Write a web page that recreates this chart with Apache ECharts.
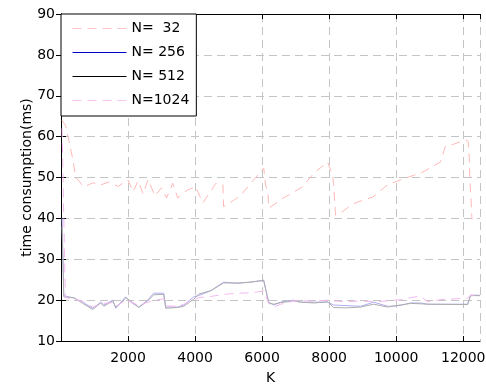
<!DOCTYPE html>
<html>
<head>
	<meta charset="utf-8">
	<title>time consumption</title>
	<style>
		html, body { margin: 0; padding: 0; background: #fff; }
		#chart { width: 486px; height: 385px; }
	</style>
</head>
<body>
	<div id="chart"></div>
	<script src="https://cdn.jsdelivr.net/npm/echarts@6/dist/echarts.min.js"></script>
	<script>
	// 图例名称
	var names = ['N=  32', 'N= 256', 'N= 512', 'N=1024'];
	var xTicks = [0, 2000, 4000, 6000, 8000, 10000, 12000];
	var yTicks = [10, 20, 30, 40, 50, 60, 70, 80, 90];

	// N=32
	var k32 = [32, 142, 351, 440, 680, 950, 1190, 1430, 1700, 2000, 2150, 2300, 2450, 2600, 2800, 3000, 3150, 3333, 3482, 3780, 4020, 4230,
		4530, 4620, 4830, 4850, 5150, 5360, 5660, 6050, 6100, 6170, 6200, 6640, 7060, 7200, 7540, 7950, 8100, 8130, 8160, 8190, 8340,
		8700, 8850, 9300, 9740, 10190, 10370, 10790, 11320, 11470, 11620, 12070, 12150, 12180, 12200, 12230, 12260];
	var t32 = [64, 62.6, 54.5, 50.1, 47.7, 48.7, 48.2, 48.9, 47.8, 49.4, 46.5, 49.2, 46, 49.5, 45.5, 47.5, 45, 48.6, 45, 47, 47.7, 43.8,
		47.4, 48.6, 48.2, 42.9, 44.4, 45.6, 48.6, 52.3, 48.2, 46.5, 42.5, 45, 47, 47.7, 51, 53.8, 50.6, 48.6, 45, 40.8, 41.3,
		43.5, 44, 45.2, 48.2, 49.6, 50.1, 51.3, 53.8, 57.7, 57.9, 59.2, 58.8, 54.8, 48.9, 45.2, 39.8];

	// N=256
	var k256 = [32, 83, 381, 650, 947, 1186, 1275, 1544, 1633, 1842, 1931, 2080, 2319, 2587, 2766, 3064, 3124, 3482, 3661, 3959, 4108, 4466,
		4854, 5271, 5659, 6047, 6196, 6345, 6554, 6941, 7150, 7555, 7955, 8134, 8939, 9327, 9745, 9924, 10150, 10430, 10730, 10937, 12130, 12220, 12500];
	var t256 = [40, 21.1, 20.5, 19.5, 18, 19.5, 18.8, 20, 18, 20, 20.8, 19.5, 18.3, 20, 21.7, 21.7, 18.3, 18.3, 18.8, 20.8, 21.1, 22.3,
		24.4, 24.1, 24.4, 24.9, 19.5, 18.8, 19.5, 20, 19.5, 19.5, 19.5, 18.8, 18.5, 19.5, 18.5, 18.5, 18.8, 19.3, 19.3, 19, 19, 21.2, 21.2];

	// N=512
	var k512 = [32, 83, 381, 650, 947, 1186, 1275, 1544, 1633, 1842, 1931, 2080, 2319, 2587, 2766, 3064, 3124, 3482, 3661, 3959, 4108, 4466,
		4854, 5271, 5659, 6047, 6196, 6345, 6554, 6941, 7150, 7555, 7955, 8134, 8500, 8939, 9327, 9745, 9924, 10150, 10430, 10730, 10937, 12130, 12220, 12500];
	var t512 = [38, 20.8, 20.6, 19.2, 17.7, 19.3, 18.5, 19.8, 18.3, 19.7, 20.6, 19.8, 18.2, 19.8, 21.3, 21.4, 18, 18.2, 18.5, 20.2, 21.5, 22.3,
		24.2, 24.2, 24.4, 24.8, 19.3, 19, 19.4, 19.8, 19.5, 19.3, 19.6, 18.2, 18.1, 18.3, 19, 18.3, 18.6, 18.8, 19.2, 19.1, 19, 18.9, 21.1, 21.1];

	// N=1024
	var k1024 = [32, 130, 381, 650, 947, 1186, 1275, 1544, 1633, 1842, 1931, 2080, 2319, 2587, 2766, 3064, 3124, 3482, 3661, 3959, 4108, 4466,
		4854, 5271, 5659, 6047, 6196, 6345, 6554, 6941, 7150, 7555, 7955, 8134, 8500, 8939, 9327, 9745, 9924, 10150, 10430, 10730, 10937, 11300, 12130, 12220, 12500];
	var t1024 = [62, 20.6, 20.3, 19.6, 18.3, 19, 19.2, 19.4, 18.5, 19.5, 20.3, 19.6, 18.7, 19.5, 20, 20.3, 18.6, 18.5, 19, 20, 20.6, 20.9,
		21.4, 21.7, 21.8, 22.2, 19.2, 18.3, 19, 19.8, 19.9, 19.7, 20, 19.8, 19.6, 19.8, 19.6, 19.8, 20, 20.1, 20.6, 21, 19.6, 20.1, 20.5, 21.2, 21.2];

	function pairs(k, t) {
		var out = [];
		for (var i = 0; i < k.length; i++) out.push([k[i], t[i]]);
		return out;
	}

	var font = 'DejaVu Sans';
	var xMin = xTicks[0], xMax = 12500, xStep = xTicks[1] - xTicks[0];
	var yMin = yTicks[0], yMax = yTicks[yTicks.length - 1], yStep = yTicks[1] - yTicks[0];

	// 画线颜色（图中偏淡）和图例颜色
	var plotColor = ['#ffb8b8', '#aeaef2', '#adadad', '#f4b8f0'];
	var legColor = ['#ffc4c4', '#0000cc', '#000000', '#f6c6f2'];
	var dash = [[9, 6], 'solid', 'solid', [9, 6]];
	var data = [pairs(k32, t32), pairs(k256, t256), pairs(k512, t512), pairs(k1024, t1024)];

	var series = [], legendData = [];
	for (var i = 0; i < names.length; i++) {
		series.push({
			name: names[i],
			type: 'line',
			xAxisIndex: 0,
			yAxisIndex: 0,
			symbol: 'none',
			data: data[i],
			lineStyle: { color: plotColor[i], width: 1, type: dash[i] },
			itemStyle: { color: plotColor[i] }
		});
		legendData.push({
			name: names[i],
			itemStyle: { opacity: 0 },
			lineStyle: { color: legColor[i], width: 1, type: dash[i], opacity: 1 }
		});
	}

	var tickStyle = { show: true, inside: true, length: 5, lineStyle: { color: '#000' } };
	var lineBlack = { show: true, lineStyle: { color: '#000', width: 1 } };
	var split = { show: true, lineStyle: { color: '#c4c4c4', width: 1, type: [8, 5] } };

	var option = {
		animation: false,
		textStyle: { fontFamily: font },
		grid: { left: 61, right: 6, top: 14, bottom: 44, outerBoundsMode: 'none' },
		legend: {
			data: legendData,
			orient: 'vertical',
			left: 61,
			top: 14,
			itemWidth: 54,
			itemHeight: 14,
			itemGap: 10,
			padding: [7.5, 7, 8.5, 11],
			borderColor: '#000',
			borderWidth: 1,
			borderRadius: 0,
			backgroundColor: '#fff',
			selectedMode: false,
			textStyle: { fontFamily: font, fontSize: 14, color: '#000' }
		},
		xAxis: [{
			type: 'value', min: xMin, max: xMax, interval: xStep,
			position: 'bottom',
			name: 'K', nameLocation: 'middle', nameGap: 30, nameMoveOverlap: false,
			nameTextStyle: { fontFamily: font, fontSize: 14, color: '#000' },
			axisLine: lineBlack, axisTick: tickStyle, splitLine: split,
			axisLabel: {
				showMinLabel: false, showMaxLabel: false, margin: 10,
				fontFamily: font, fontSize: 14, color: '#000',
				formatter: function (v) { return String(v); }
			}
		}, {
			type: 'value', min: xMin, max: xMax, interval: xStep,
			position: 'top',
			axisLine: lineBlack, axisTick: tickStyle, splitLine: { show: false },
			axisLabel: { show: false }
		}],
		yAxis: [{
			type: 'value', min: yMin, max: yMax, interval: yStep,
			position: 'left',
			name: 'time consumption(ms)', nameLocation: 'middle', nameGap: 27, nameMoveOverlap: false,
			nameTextStyle: { fontFamily: font, fontSize: 14, color: '#000' },
			axisLine: lineBlack, axisTick: tickStyle, splitLine: split,
			axisLabel: { margin: 6, fontFamily: font, fontSize: 14, color: '#000' }
		}, {
			type: 'value', min: yMin, max: yMax, interval: yStep,
			position: 'right',
			axisLine: lineBlack, axisTick: tickStyle, splitLine: { show: false },
			axisLabel: { show: false }
		}],
		series: series
	};

	var myChart = echarts.init(document.getElementById('chart'));
	myChart.setOption(option);
	</script>
</body>
</html>
